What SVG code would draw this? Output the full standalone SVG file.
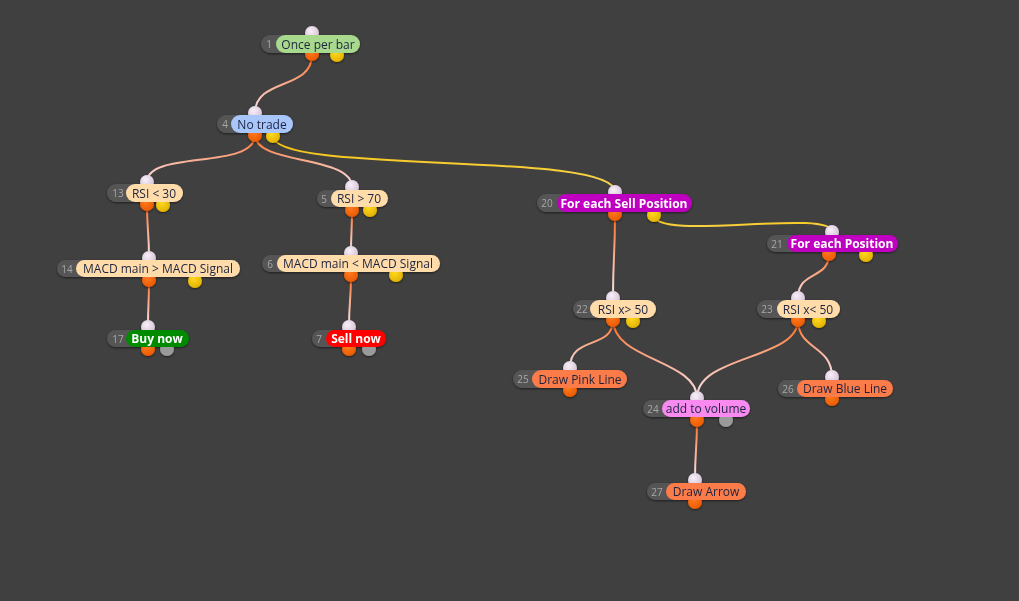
<svg xmlns="http://www.w3.org/2000/svg" width="1019" height="601" viewBox="0 0 1019 601">
<defs>
<style>
.bg{fill:#404040}
.num{fill:#555555}
.numt{font-family:"Open Sans","DejaVu Sans",sans-serif;font-size:10px;fill:#a8a8a8;text-anchor:middle;dominant-baseline:central}
.lbl{font-family:"Open Sans","DejaVu Sans",sans-serif;font-size:12px;fill:#1c2440;text-anchor:middle;dominant-baseline:central}
.lblw{font-family:"Open Sans","DejaVu Sans",sans-serif;font-size:12px;font-weight:bold;fill:#ffffff;text-anchor:middle;dominant-baseline:central}
.in{fill:url(#gIn)}
.oo{fill:url(#gOr)}
.oy{fill:url(#gYe)}
.og{fill:#9a9a9a}
.co{fill:none;stroke:url(#lineO);stroke-width:2}
.cy{fill:none;stroke:url(#lineY);stroke-width:2}
.green{fill:#a8d98c}
.blue{fill:#a8c6fa}
.peach{fill:#ffdcaa}
.dgreen{fill:#008a00}
.red{fill:#ff0000}
.mag{fill:#c000c0}
.coral{fill:#fb7b4a}
.pink{fill:#f98af0}
.node{filter:url(#sh)}
</style>
<radialGradient id="gIn" cx="0.4" cy="0.35" r="0.7"><stop offset="0" stop-color="#f8f0f8"/><stop offset="1" stop-color="#d2bed4"/></radialGradient>
<radialGradient id="gOr" cx="0.4" cy="0.35" r="0.7"><stop offset="0" stop-color="#ff7a20"/><stop offset="1" stop-color="#e85800"/></radialGradient>
<radialGradient id="gYe" cx="0.4" cy="0.35" r="0.7"><stop offset="0" stop-color="#ffd820"/><stop offset="1" stop-color="#e0b000"/></radialGradient>
<linearGradient id="lineO" x1="0" y1="0" x2="0" y2="1"><stop offset="0" stop-color="#ff6410"/><stop offset="0.35" stop-color="#fa9a70"/><stop offset="1" stop-color="#f8e6ee"/></linearGradient>
<linearGradient id="lineY" x1="0" y1="0" x2="0" y2="1"><stop offset="0" stop-color="#f5c000"/><stop offset="1" stop-color="#fad860"/></linearGradient>
<filter id="sh" x="-10%" y="-30%" width="120%" height="160%"><feDropShadow dx="0" dy="1" stdDeviation="1.2" flood-color="#000" flood-opacity="0.55"/></filter>
</defs>
<rect class="bg" x="0" y="0" width="1019" height="601"/>
<g id="connectors">
<path class="co" d="M312,55 C312,90 255,78 255,113"/>
<path class="co" d="M255,135 C255,170 147,150 147,182"/>
<path class="co" d="M255,135 C255,165 352,155 352,187"/>
<path class="cy" d="M273,136 C273,175 615,150 615,192"/>
<path class="co" d="M147,204 C147,230 149,232 149,258"/>
<path class="co" d="M149,280 C149,305 148,302 148,327"/>
<path class="co" d="M352,210 C352,232 351,231 351,253"/>
<path class="co" d="M351,275 C351,300 349,302 349,327"/>
<path class="co" d="M615,214 C615,255 613,257 613,298"/>
<path class="cy" d="M654,215 C654,242 832,208 832,232"/>
<path class="co" d="M829,254 C829,280 798,270 798,298"/>
<path class="co" d="M613,320 C613,350 570,335 570,368"/>
<path class="co" d="M613,320 C613,360 697,360 697,398"/>
<path class="co" d="M798,320 C798,360 697,355 697,398"/>
<path class="co" d="M798,320 C798,350 832,345 832,377"/>
<path class="co" d="M697,420 C697,450 695,450 695,480"/>
</g>
<g id="n1" class="node">
<circle class="in" cx="312" cy="33" r="7"/><circle class="oo" cx="312" cy="54" r="7"/><circle class="oy" cx="337" cy="55" r="7"/>
<rect class="num" x="261" y="35" width="40" height="18" rx="9"/>
<rect class="green" x="276" y="35" width="84" height="18" rx="9"/>
<text class="numt" x="269" y="44">1</text><text class="lbl" x="318" y="44">Once per bar</text>
</g>
<g id="n4" class="node">
<circle class="in" cx="255" cy="113" r="7"/><circle class="oo" cx="255" cy="135" r="7"/><circle class="oy" cx="273" cy="136" r="7"/>
<rect class="num" x="217" y="115" width="40" height="18" rx="9"/>
<rect class="blue" x="231" y="115" width="62" height="18" rx="9"/>
<text class="numt" x="225" y="124">4</text><text class="lbl" x="262" y="124">No trade</text>
</g>
<g id="n13" class="node">
<circle class="in" cx="147" cy="182" r="7"/><circle class="oo" cx="147" cy="204" r="7"/><circle class="oy" cx="163" cy="205" r="7"/>
<rect class="num" x="107" y="184" width="40" height="18" rx="9"/>
<rect class="peach" x="126" y="184" width="57" height="18" rx="9"/>
<text class="numt" x="118" y="193">13</text><text class="lbl" x="154" y="193">RSI &lt; 30</text>
</g>
<g id="n14" class="node">
<circle class="in" cx="149" cy="258" r="7"/><circle class="oo" cx="149" cy="280" r="7"/><circle class="oy" cx="195" cy="281" r="7"/>
<rect class="num" x="57" y="260" width="40" height="17" rx="8.5"/>
<rect class="peach" x="76" y="260" width="164" height="17" rx="8.5"/>
<text class="numt" x="67" y="268.5">14</text><text class="lbl" x="158" y="268.5">MACD main &gt; MACD Signal</text>
</g>
<g id="n17" class="node">
<circle class="in" cx="148" cy="327" r="7"/><circle class="oo" cx="148" cy="349" r="7"/><circle class="og" cx="167" cy="349" r="7"/>
<rect class="num" x="107" y="330" width="40" height="17" rx="8.5"/>
<rect class="dgreen" x="126" y="330" width="63" height="17" rx="8.5"/>
<text class="numt" x="118" y="338.5">17</text><text class="lblw" x="157" y="338.5">Buy now</text>
</g>
<g id="n5" class="node">
<circle class="in" cx="352" cy="187" r="7"/><circle class="oo" cx="352" cy="210" r="7"/><circle class="oy" cx="370" cy="210" r="7"/>
<rect class="num" x="317" y="190" width="40" height="17" rx="8.5"/>
<rect class="peach" x="331" y="190" width="57" height="17" rx="8.5"/>
<text class="numt" x="324" y="198.5">5</text><text class="lbl" x="359" y="198.5">RSI &gt; 70</text>
</g>
<g id="n6" class="node">
<circle class="in" cx="351" cy="253" r="7"/><circle class="oo" cx="351" cy="275" r="7"/><circle class="oy" cx="396" cy="275" r="7"/>
<rect class="num" x="262" y="255" width="40" height="17" rx="8.5"/>
<rect class="peach" x="277" y="255" width="163" height="17" rx="8.5"/>
<text class="numt" x="270" y="263.5">6</text><text class="lbl" x="358" y="263.5">MACD main &lt; MACD Signal</text>
</g>
<g id="n7" class="node">
<circle class="in" cx="349" cy="327" r="7"/><circle class="oo" cx="349" cy="349" r="7"/><circle class="og" cx="369" cy="349" r="7"/>
<rect class="num" x="312" y="330" width="40" height="17" rx="8.5"/>
<rect class="red" x="326" y="330" width="60" height="17" rx="8.5"/>
<text class="numt" x="319" y="338.5">7</text><text class="lblw" x="356" y="338.5">Sell now</text>
</g>
<g id="n20" class="node">
<circle class="in" cx="615" cy="192" r="7"/><circle class="oo" cx="615" cy="214" r="7"/><circle class="oy" cx="654" cy="215" r="7"/>
<rect class="num" x="537" y="194" width="40" height="18" rx="9"/>
<rect class="mag" x="557" y="194" width="135" height="18" rx="9"/>
<text class="numt" x="547" y="203">20</text><text class="lblw" x="624" y="203">For each Sell Position</text>
</g>
<g id="n21" class="node">
<circle class="in" cx="832" cy="232" r="7"/><circle class="oo" cx="829" cy="254" r="7"/><circle class="oy" cx="866" cy="255" r="7"/>
<rect class="num" x="767" y="235" width="40" height="17" rx="8.5"/>
<rect class="mag" x="787" y="235" width="111" height="17" rx="8.5"/>
<text class="numt" x="777" y="243.5">21</text><text class="lblw" x="842" y="243.5">For each Position</text>
</g>
<g id="n22" class="node">
<circle class="in" cx="613" cy="298" r="7"/><circle class="oo" cx="613" cy="320" r="7"/><circle class="oy" cx="633" cy="321" r="7"/>
<rect class="num" x="573" y="300" width="40" height="18" rx="9"/>
<rect class="peach" x="590" y="300" width="66" height="18" rx="9"/>
<text class="numt" x="582" y="309">22</text><text class="lbl" x="623" y="309">RSI x&gt; 50</text>
</g>
<g id="n25" class="node">
<circle class="in" cx="570" cy="368" r="7"/><circle class="oo" cx="570" cy="390" r="7"/>
<rect class="num" x="513" y="370" width="40" height="18" rx="9"/>
<rect class="coral" x="532" y="370" width="95" height="18" rx="9"/>
<text class="numt" x="523" y="379">25</text><text class="lbl" x="580" y="379">Draw Pink Line</text>
</g>
<g id="n23" class="node">
<circle class="in" cx="798" cy="298" r="7"/><circle class="oo" cx="798" cy="320" r="7"/><circle class="oy" cx="819" cy="321" r="7"/>
<rect class="num" x="757" y="300" width="40" height="18" rx="9"/>
<rect class="peach" x="777" y="300" width="63" height="18" rx="9"/>
<text class="numt" x="767" y="309">23</text><text class="lbl" x="808" y="309">RSI x&lt; 50</text>
</g>
<g id="n26" class="node">
<circle class="in" cx="832" cy="377" r="7"/><circle class="oo" cx="832" cy="399" r="7"/>
<rect class="num" x="778" y="380" width="40" height="17" rx="8.5"/>
<rect class="coral" x="797" y="380" width="96" height="17" rx="8.5"/>
<text class="numt" x="788" y="388.5">26</text><text class="lbl" x="845" y="388.5">Draw Blue Line</text>
</g>
<g id="n24" class="node">
<circle class="in" cx="697" cy="398" r="7"/><circle class="oo" cx="697" cy="420" r="7"/><circle class="og" cx="726" cy="420" r="7"/>
<rect class="num" x="643" y="400" width="40" height="17" rx="8.5"/>
<rect class="pink" x="662" y="400" width="88" height="17" rx="8.5"/>
<text class="numt" x="653" y="408.5">24</text><text class="lbl" x="706" y="408.5">add to volume</text>
</g>
<g id="n27" class="node">
<circle class="in" cx="695" cy="480" r="7"/><circle class="oo" cx="695" cy="502" r="7"/>
<rect class="num" x="647" y="483" width="40" height="17" rx="8.5"/>
<rect class="coral" x="666" y="483" width="80" height="17" rx="8.5"/>
<text class="numt" x="657" y="491.5">27</text><text class="lbl" x="706" y="491.5">Draw Arrow</text>
</g>
</svg>
